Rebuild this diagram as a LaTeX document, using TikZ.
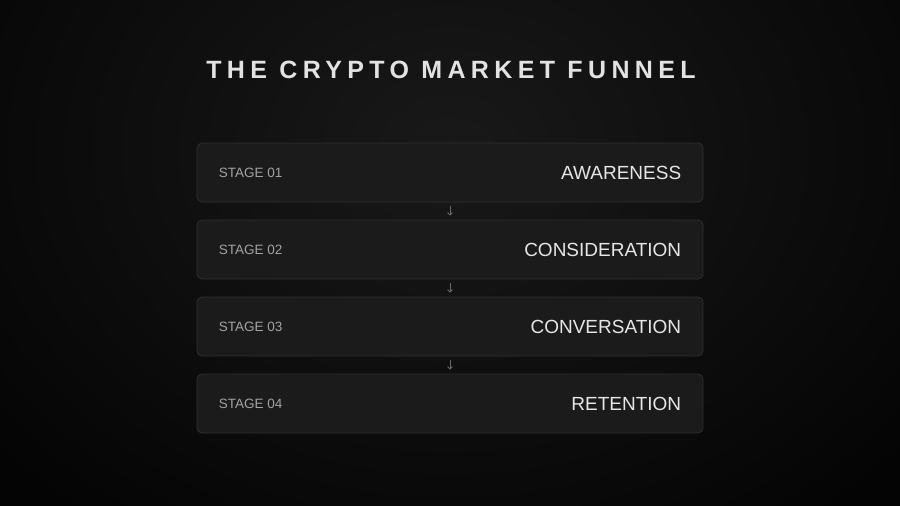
\documentclass[tikz,border=0pt]{standalone}
\usepackage{fontspec}
\setmainfont{Liberation Sans}
\newfontfamily\titlefont[LetterSpace=21.5]{Liberation Sans}
\usetikzlibrary{arrows.meta,calc}
\definecolor{bgin}{HTML}{191919}
\definecolor{bgout}{HTML}{040404}
\definecolor{boxfill}{HTML}{1B1B1B}
\definecolor{boxline}{HTML}{2F2F2F}
\definecolor{titlecol}{HTML}{E2E2E2}
\definecolor{stagecol}{HTML}{A3A3A3}
\definecolor{namecol}{HTML}{E6E6E6}
\definecolor{arrowcol}{HTML}{6A6A6A}
\tikzset{
  stagebox/.style={draw=boxline, line width=0.8pt, fill=boxfill, rounded corners=5pt,
    minimum width=506pt, minimum height=59pt, inner sep=0pt},
  stagelabel/.style={anchor=west, text=stagecol, font=\fontsize{13.5}{16}\selectfont, inner sep=0pt},
  stagename/.style={anchor=east, text=namecol, font=\fontsize{19}{22}\selectfont, inner sep=0pt},
  flowarrow/.style={draw=arrowcol, line width=0.8pt, -{Straight Barb[length=2.5pt,width=5pt]}}
}
\begin{document}
\begin{tikzpicture}[x=1pt,y=-1pt]
\useasboundingbox (0,0) rectangle (900,506);
\fill[bgout] (0,0) rectangle (900,506);
\begin{scope}
\clip (0,0) rectangle (900,506);
\shade[inner color=bgin, outer color=bgout] (450,150) ellipse [x radius=600, y radius=470];
\end{scope}
\node[text=titlecol, font=\titlefont\bfseries\fontsize{25}{30}\selectfont, inner sep=0pt] (title) at (451,70) {THE CRYPTO MARKET FUNNEL};
\node[stagebox] (b1) at (450,172.5) {};
\node[stagebox] (b2) at (450,249.5) {};
\node[stagebox] (b3) at (450,326.5) {};
\node[stagebox] (b4) at (450,403.5) {};
\foreach \i/\s/\n in {1/01/AWARENESS,2/02/CONSIDERATION,3/03/CONVERSATION,4/04/RETENTION}{
  \node[stagelabel] (s\i) at ($(b\i.west)+(22,0)$) {STAGE \s};
  \node[stagename] (n\i) at ($(b\i.east)+(-22,0)$) {\n};
}
\draw[flowarrow] ($(b1.south)+(0,4)$) -- ($(b2.north)+(0,-4)$);
\draw[flowarrow] ($(b2.south)+(0,4)$) -- ($(b3.north)+(0,-4)$);
\draw[flowarrow] ($(b3.south)+(0,4)$) -- ($(b4.north)+(0,-4)$);
\end{tikzpicture}
\end{document}
